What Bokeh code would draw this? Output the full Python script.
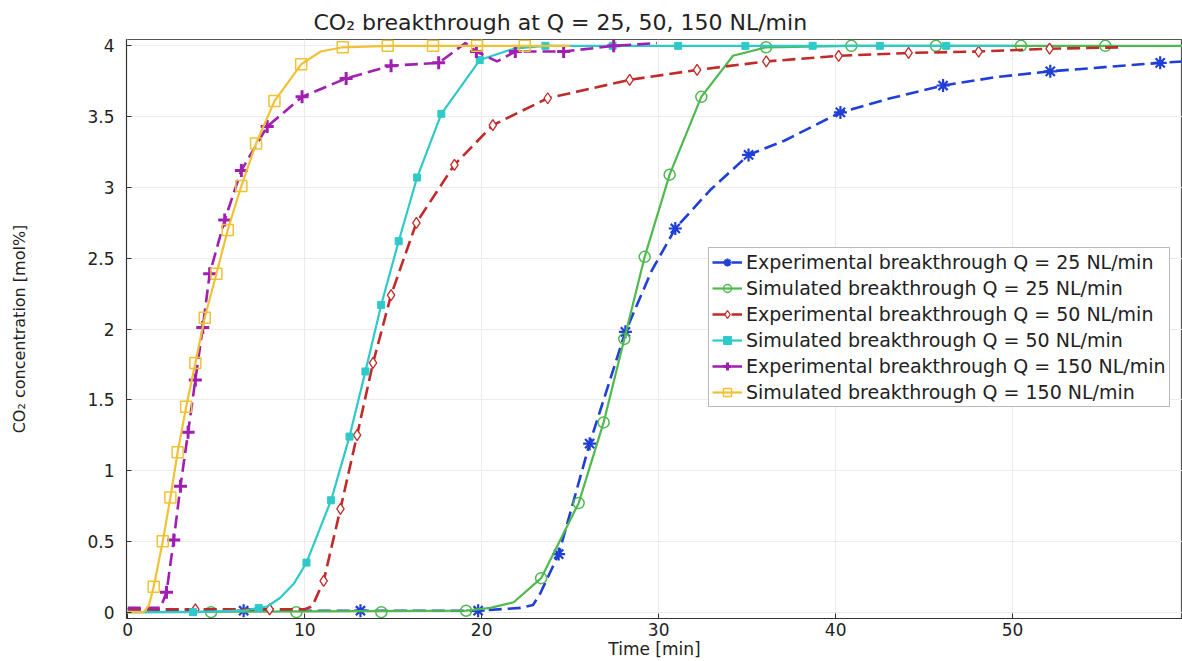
from bokeh.plotting import figure
from bokeh.embed import file_html
from bokeh.resources import INLINE
from bokeh.models import Range1d, Legend, LegendItem, FixedTicker

# ---------------- data ----------------
# Experimental breakthrough Q = 25 NL/min (line + markers)
t_exp25 = [0, 6.55, 13.15, 19.80, 22.2, 22.9, 23.3, 24.35, 26.10, 28.12, 29.6, 30.94, 32.9, 35.08, 37.1, 40.27, 43.1, 46.07, 49.1, 52.13, 55.2, 58.34, 59.6]
c_exp25 = [0.02, 0.01, 0.01, 0.01, 0.03, 0.05, 0.13, 0.41, 1.19, 1.98, 2.41, 2.71, 2.98, 3.23, 3.33, 3.53, 3.63, 3.72, 3.78, 3.82, 3.85, 3.88, 3.89]
mt_exp25 = [6.55, 13.15, 19.80, 24.35, 26.10, 28.12, 30.94, 35.08, 40.27, 46.07, 52.13, 58.34]
mc_exp25 = [0.01, 0.01, 0.01, 0.41, 1.19, 1.98, 2.71, 3.23, 3.53, 3.72, 3.82, 3.88]

# Simulated breakthrough Q = 25 NL/min
t_sim25 = [0, 19.12, 20.5, 21.81, 23.36, 25.48, 26.89, 28.06, 29.21, 30.62, 32.41, 34.2, 36.07, 40.89, 45.67, 50.47, 55.24, 59.6]
c_sim25 = [0, 0.01, 0.03, 0.07, 0.24, 0.77, 1.34, 1.93, 2.51, 3.09, 3.64, 3.93, 3.99, 4.0, 4.0, 4.0, 4.0, 4.0]
mt_sim25 = [4.71, 9.53, 14.33, 19.12, 23.36, 25.48, 26.89, 28.06, 29.21, 30.62, 32.41, 36.07, 40.89, 45.67, 50.47, 55.24]
mc_sim25 = [0, 0, 0, 0.01, 0.24, 0.77, 1.34, 1.93, 2.51, 3.09, 3.64, 3.99, 4.0, 4.0, 4.0, 4.0]

# Experimental breakthrough Q = 50 NL/min
t_exp50 = [0, 3.82, 8.02, 10.0, 10.42, 11.07, 12.02, 12.96, 13.86, 14.88, 16.31, 18.46, 20.63, 23.73, 28.36, 32.17, 36.08, 40.17, 44.12, 48.08, 52.09, 56.3]
c_exp50 = [0.02, 0.02, 0.02, 0.02, 0.04, 0.22, 0.73, 1.25, 1.76, 2.24, 2.75, 3.16, 3.44, 3.63, 3.76, 3.83, 3.89, 3.93, 3.95, 3.96, 3.98, 3.99]
mt_exp50 = [3.82, 8.02, 11.07, 12.02, 12.96, 13.86, 14.88, 16.31, 18.46, 20.63, 23.73, 28.36, 32.17, 36.08, 40.17, 44.12, 48.08, 52.09]
mc_exp50 = [0.02, 0.02, 0.22, 0.73, 1.25, 1.76, 2.24, 2.75, 3.16, 3.44, 3.63, 3.76, 3.83, 3.89, 3.93, 3.95, 3.96, 3.98]

# Simulated breakthrough Q = 50 NL/min
t_sim50 = [0, 3.69, 6.5, 7.40, 7.88, 8.6, 9.38, 10.10, 11.49, 12.53, 13.43, 14.32, 15.31, 16.35, 17.72, 19.89, 21.8, 23.6, 27.4, 31.1, 34.9, 38.7, 42.5, 46.25, 50.0]
c_sim50 = [0, 0, 0.01, 0.03, 0.04, 0.1, 0.2, 0.35, 0.79, 1.24, 1.70, 2.17, 2.62, 3.07, 3.52, 3.90, 3.98, 4.0, 4.0, 4.0, 4.0, 4.0, 4.0, 4.0, 4.0]
mt_sim50 = [3.69, 7.40, 10.10, 11.49, 12.53, 13.43, 14.32, 15.31, 16.35, 17.72, 19.89, 23.6, 27.4, 31.1, 34.9, 38.7, 42.5, 46.25]
mc_sim50 = [0, 0.03, 0.35, 0.79, 1.24, 1.70, 2.17, 2.62, 3.07, 3.52, 3.90, 4.0, 4.0, 4.0, 4.0, 4.0, 4.0, 4.0]

# Experimental breakthrough Q = 150 NL/min
t_exp150 = [0, 1.85, 2.19, 2.60, 2.98, 3.41, 3.82, 4.24, 4.63, 5.48, 6.42, 7.88, 9.85, 12.34, 14.88, 17.57, 19.08, 19.70, 20.87, 21.90, 24.63, 27.46, 29.9]
c_exp150 = [0.03, 0.03, 0.14, 0.51, 0.89, 1.27, 1.64, 2.01, 2.39, 2.77, 3.12, 3.43, 3.64, 3.77, 3.86, 3.88, 4.02, 3.96, 3.89, 3.96, 3.96, 4.00, 4.02]
mt_exp150 = [2.19, 2.60, 2.98, 3.41, 3.82, 4.24, 4.63, 5.48, 6.42, 7.88, 9.85, 12.34, 14.88, 17.57, 19.70, 21.90, 24.63, 27.46]
mc_exp150 = [0.14, 0.51, 0.89, 1.27, 1.64, 2.01, 2.39, 2.77, 3.12, 3.43, 3.64, 3.77, 3.86, 3.88, 3.96, 3.96, 3.96, 4.00]

# Simulated breakthrough Q = 150 NL/min
t_sim150 = [0, 0.9, 1.2, 1.47, 1.98, 2.41, 2.82, 3.30, 3.82, 4.35, 5.01, 5.65, 6.42, 7.25, 8.29, 9.80, 10.9, 12.15, 14.69, 17.25, 19.74, 22.43, 25.0]
c_sim150 = [0, 0, 0.05, 0.18, 0.50, 0.81, 1.13, 1.45, 1.76, 2.08, 2.39, 2.70, 3.01, 3.31, 3.61, 3.87, 3.96, 3.99, 4.0, 4.0, 4.0, 4.0, 4.0]
mt_sim150 = [1.47, 1.98, 2.41, 2.82, 3.30, 3.82, 4.35, 5.01, 5.65, 6.42, 7.25, 8.29, 9.80, 12.15, 14.69, 17.25, 19.74, 22.43]
mc_sim150 = [0.18, 0.50, 0.81, 1.13, 1.45, 1.76, 2.08, 2.39, 2.70, 3.01, 3.31, 3.61, 3.87, 3.99, 4.0, 4.0, 4.0, 4.0]

x_ticks = [0, 10, 20, 30, 40, 50]
y_ticks = [0, 0.5, 1, 1.5, 2, 2.5, 3, 3.5, 4]
y_tick_labels = {0: "0", 0.5: "0.5", 1: "1", 1.5: "1.5", 2: "2", 2.5: "2.5", 3: "3", 3.5: "3.5", 4: "4"}

labels = [
    "Experimental breakthrough Q = 25 NL/min",
    "Simulated breakthrough Q = 25 NL/min",
    "Experimental breakthrough Q = 50 NL/min",
    "Simulated breakthrough Q = 50 NL/min",
    "Experimental breakthrough Q = 150 NL/min",
    "Simulated breakthrough Q = 150 NL/min",
]

FONT = "DejaVu Sans"

p = figure(width=1182, height=661, output_backend="svg", toolbar_location=None,
           x_range=Range1d(-0.07, 59.6), y_range=Range1d(-0.045, 4.045),
           min_border_left=126, min_border_right=0, min_border_top=39, min_border_bottom=42)

p.title.text = "CO\u2082 breakthrough at Q = 25, 50, 150 NL/min"
p.title.text_font = FONT
p.title.text_font_size = "22px"
p.title.text_font_style = "normal"
p.title.align = "left"
p.title.offset = 187
p.title.text_color = "#222222"

p.xaxis.ticker = FixedTicker(ticks=x_ticks)
p.yaxis.ticker = FixedTicker(ticks=y_ticks)
p.yaxis.major_label_overrides = y_tick_labels
p.xaxis.axis_label = "Time [min]"
p.yaxis.axis_label = "CO\u2082 concentration [mol%]"
for ax in (p.xaxis, p.yaxis):
    ax.axis_label_text_font = FONT
    ax.axis_label_text_font_size = "17px"
    ax.axis_label_text_font_style = "normal"
    ax.axis_label_text_color = "#222222"
    ax.major_label_text_font = FONT
    ax.major_label_text_font_size = "17px"
    ax.major_label_text_color = "#222222"
    ax.major_tick_in = 5
    ax.major_tick_out = 0
    ax.minor_tick_in = 0
    ax.minor_tick_out = 0
    ax.axis_line_color = "#333333"
    ax.major_tick_line_color = "#333333"
p.yaxis.axis_label_text_font_size = "16px"
p.xaxis.axis_label_standoff = 0
p.xaxis.major_label_standoff = 4
p.yaxis.axis_label_standoff = 55
p.yaxis.major_label_standoff = 12

p.xgrid.grid_line_color = "#ebebeb"
p.ygrid.grid_line_color = "#ebebeb"
p.outline_line_color = "#555555"
p.outline_line_width = 1.2

BLUE = "#1f3fd6"
GREEN = "#4fb84f"
RED = "#c02a28"
CYAN = "#2fc9c9"
MAGENTA = "#a01fb0"
YELLOW = "#f0c233"
DASH = "13 6"

items = []

l1 = p.line(t_exp25, c_exp25, line_color=BLUE, line_width=2.6, line_dash=DASH)
s1 = p.scatter(mt_exp25, mc_exp25, marker="asterisk", size=13, line_color=BLUE, line_width=2.2)
items.append(LegendItem(label=labels[0], renderers=[l1, s1]))

l2 = p.line(t_sim25, c_sim25, line_color=GREEN, line_width=2.2)
s2 = p.scatter(mt_sim25, mc_sim25, marker="circle", size=11, line_color=GREEN, fill_alpha=0, line_width=1.5)
items.append(LegendItem(label=labels[1], renderers=[l2, s2]))

l3 = p.line(t_exp50, c_exp50, line_color=RED, line_width=2.6, line_dash=DASH)
s3 = p.scatter(mt_exp50, mc_exp50, marker="diamond", size=11, line_color=RED, fill_color="white", line_width=1.3)
items.append(LegendItem(label=labels[2], renderers=[l3, s3]))

l4 = p.line(t_sim50, c_sim50, line_color=CYAN, line_width=2.2)
s4 = p.scatter(mt_sim50, mc_sim50, marker="square", size=7, line_color=CYAN, fill_color=CYAN)
items.append(LegendItem(label=labels[3], renderers=[l4, s4]))

l5 = p.line(t_exp150, c_exp150, line_color=MAGENTA, line_width=2.6, line_dash=DASH)
s5 = p.scatter(mt_exp150, mc_exp150, marker="cross", size=13, line_color=MAGENTA, line_width=3)
items.append(LegendItem(label=labels[4], renderers=[l5, s5]))

l6 = p.line(t_sim150, c_sim150, line_color=YELLOW, line_width=2.2)
s6 = p.scatter(mt_sim150, mc_sim150, marker="square", size=11, line_color=YELLOW, fill_alpha=0, line_width=1.5)
items.append(LegendItem(label=labels[5], renderers=[l6, s6]))

legend = Legend(items=items, location=(582, 211))
legend.label_text_font = FONT
legend.label_text_font_size = "19px"
legend.label_text_color = "#222222"
legend.glyph_width = 30
legend.glyph_height = 20
legend.label_height = 20
legend.spacing = 4
legend.padding = 3
legend.margin = 0
legend.label_standoff = 4
legend.border_line_color = "#777777"
legend.border_line_width = 1.5
legend.background_fill_color = "white"
legend.background_fill_alpha = 1.0
p.add_layout(legend, "center")

open("out.html", "w").write(file_html(p, INLINE))
